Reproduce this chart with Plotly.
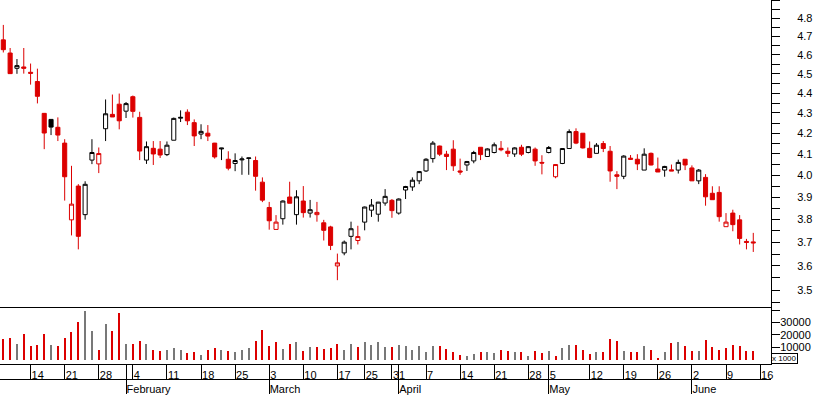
import pandas as pd
import plotly.graph_objects as go

# ---------------- data ----------------
holidays = ["2008-03-21", "2008-03-24", "2008-05-01"]
calendar_start = "2008-01-07"
calendar_end = "2008-06-16"
first_session = "2008-01-08"
last_session = "2008-06-13"
prev_close_before_start = 4.70

opens = [4.681, 4.610, 4.529, 4.536, 4.508, 4.460, 4.298, 4.268, 4.229, 4.152,
         3.798, 3.950, 3.821, 4.071, 4.053, 4.222, 4.293, 4.344, 4.309, 4.382,
         4.278, 4.071, 4.127, 4.123, 4.097, 4.166, 4.274, 4.304, 4.252, 4.196,
         4.200, 4.152, 4.124, 4.075, 4.055, 4.072, 4.079, 4.069, 3.968, 3.853,
         3.756, 3.803, 3.900, 3.821, 3.882, 3.828, 3.821, 3.785, 3.767, 3.600,
         3.655, 3.726, 3.708, 3.788, 3.841, 3.823, 3.873, 3.885, 3.828, 3.932,
         3.946, 3.974, 4.020, 4.078, 4.138, 4.099, 4.123, 4.020, 4.048, 4.067,
         4.132, 4.088, 4.107, 4.127, 4.113, 4.100, 4.132, 4.107, 4.123, 4.060,
         4.107, 3.993, 4.055, 4.126, 4.208, 4.200, 4.127, 4.103, 4.150, 4.113,
         4.002, 3.995, 4.080, 4.075, 4.024, 4.103, 4.029, 4.024, 4.025, 4.024,
         4.075, 4.034, 3.974, 3.990, 3.917, 3.921, 3.768, 3.828, 3.798, 3.704,
         3.702]
highs = [4.763, 4.637, 4.578, 4.637, 4.554, 4.527, 4.300, 4.270, 4.278, 4.171,
         4.044, 3.959, 3.972, 4.171, 4.131, 4.368, 4.393, 4.398, 4.355, 4.388,
         4.306, 4.160, 4.162, 4.162, 4.160, 4.277, 4.313, 4.318, 4.268, 4.244,
         4.240, 4.153, 4.129, 4.113, 4.103, 4.088, 4.082, 4.088, 3.990, 3.878,
         3.819, 3.885, 3.970, 3.931, 3.950, 3.887, 3.878, 3.798, 3.772, 3.652,
         3.708, 3.790, 3.772, 3.857, 3.891, 3.878, 3.936, 3.891, 3.894, 3.951,
         3.990, 4.020, 4.080, 4.162, 4.140, 4.115, 4.166, 4.078, 4.067, 4.115,
         4.133, 4.127, 4.155, 4.162, 4.131, 4.132, 4.144, 4.138, 4.131, 4.094,
         4.138, 4.052, 4.127, 4.219, 4.224, 4.201, 4.160, 4.152, 4.162, 4.138,
         4.019, 4.094, 4.095, 4.099, 4.127, 4.107, 4.083, 4.044, 4.050, 4.073,
         4.076, 4.046, 4.029, 4.005, 3.949, 3.949, 3.828, 3.843, 3.819, 3.715,
         3.741]
lows = [4.613, 4.500, 4.500, 4.501, 4.444, 4.348, 4.123, 4.191, 4.162, 3.884,
        3.730, 3.670, 3.799, 4.052, 4.010, 4.162, 4.280, 4.219, 4.275, 4.277,
        4.071, 4.053, 4.048, 4.081, 4.090, 4.166, 4.255, 4.240, 4.138, 4.171,
        4.162, 4.078, 4.071, 4.023, 4.019, 4.002, 4.002, 3.929, 3.877, 3.755,
        3.756, 3.777, 3.872, 3.777, 3.808, 3.808, 3.790, 3.708, 3.667, 3.541,
        3.645, 3.670, 3.691, 3.752, 3.811, 3.790, 3.861, 3.807, 3.821, 3.891,
        3.928, 3.959, 4.015, 4.059, 4.090, 4.024, 4.020, 4.002, 4.020, 4.056,
        4.071, 4.086, 4.103, 4.113, 4.086, 4.086, 4.090, 4.103, 4.044, 4.004,
        4.103, 3.986, 4.052, 4.126, 4.147, 4.126, 4.080, 4.103, 4.109, 3.970,
        3.936, 3.982, 4.073, 4.024, 4.024, 4.046, 4.015, 3.993, 4.020, 4.008,
        4.024, 3.974, 3.959, 3.861, 3.888, 3.790, 3.768, 3.748, 3.691, 3.670,
        3.659]
closes = [4.628, 4.501, 4.543, 4.529, 4.503, 4.384, 4.201, 4.230, 4.191, 3.993,
          3.868, 3.726, 3.958, 4.107, 4.102, 4.296, 4.280, 4.261, 4.347, 4.308,
          4.114, 4.135, 4.100, 4.095, 4.142, 4.273, 4.278, 4.261, 4.187, 4.209,
          4.186, 4.086, 4.128, 4.033, 4.069, 4.076, 4.081, 3.995, 3.886, 3.794,
          3.788, 3.882, 3.872, 3.901, 3.830, 3.843, 3.831, 3.752, 3.687, 3.613,
          3.701, 3.759, 3.725, 3.855, 3.864, 3.877, 3.903, 3.839, 3.891, 3.948,
          3.977, 4.017, 4.075, 4.152, 4.099, 4.088, 4.044, 4.015, 4.064, 4.107,
          4.097, 4.124, 4.144, 4.120, 4.103, 4.129, 4.099, 4.135, 4.067, 4.057,
          4.131, 4.050, 4.126, 4.208, 4.152, 4.129, 4.083, 4.142, 4.126, 4.020,
          3.995, 4.090, 4.075, 4.053, 4.099, 4.048, 4.015, 4.041, 4.020, 4.060,
          4.048, 3.974, 4.024, 3.901, 3.888, 3.812, 3.788, 3.777, 3.717, 3.700,
          3.698]
volumes = [17200, 18000, 13160, 21260, 10970, 12350, 21260, 12350, 11540, 18000,
           22870, 30970, 39880, 23680, 7490, 29350, 23680, 38260, 13160, 13160,
           15590, 13160, 7490, 6680, 7490, 9920, 7490, 5060, 5870, 3440,
           7490, 9110, 7490, 6680, 5870, 7490, 9920, 15590, 24490, 11540,
           14210, 8300, 13160, 14210, 6680, 10730, 10730, 8300, 9110, 13160,
           7490, 13160, 10730, 14210, 12350, 14210, 10730, 10730, 12350, 10970,
           7730, 10970, 5870, 10970, 10970, 8540, 6110, 3680, 2630, 4490,
           6110, 5870, 5300, 7730, 6920, 5870, 6110, 3170, 6920, 5300,
           6920, 2900, 9640, 11810, 11810, 7730, 4490, 5870, 6110, 16670,
           15050, 6920, 6110, 6110, 10970, 7730, 1280, 6110, 13430, 14210,
           10970, 6920, 6920, 15860, 10190, 7730, 9370, 11810, 10970, 6920,
           6920]

day_tick_dates = ["2008-01-07", "2008-01-14", "2008-01-21", "2008-01-28", "2008-02-04",
                  "2008-02-11", "2008-02-18", "2008-02-25", "2008-03-03", "2008-03-10",
                  "2008-03-17", "2008-03-25", "2008-03-31", "2008-04-07", "2008-04-14",
                  "2008-04-21", "2008-04-28", "2008-05-02", "2008-05-12", "2008-05-19",
                  "2008-05-26", "2008-06-02", "2008-06-09", "2008-06-16"]
day_tick_labels = ["7", "14", "21", "28", "4", "11", "18", "25", "3", "10", "17", "25",
                   "31", "7", "14", "21", "28", "5", "12", "19", "26", "2", "9", "16"]
month_tick_dates = ["2008-02-01", "2008-03-03", "2008-04-01", "2008-05-02", "2008-06-02"]
month_tick_labels = ["February", "March", "April", "May", "June"]
price_ticks = [3.5, 3.6, 3.7, 3.8, 3.9, 4.0, 4.1, 4.2, 4.3, 4.4, 4.5, 4.6, 4.7, 4.8]
price_minor_ticks = [3.45, 3.55, 3.65, 3.75, 3.85, 3.95, 4.05, 4.15, 4.25, 4.35,
                     4.45, 4.55, 4.65, 4.75, 4.85, 4.9]
volume_ticks = [10000, 20000, 30000]
volume_minor_ticks = [0, 40000]

# ---------------- build ----------------
RED = "#dc0000"
GRAY = "#787878"
BLACK = "#000000"

cal = pd.bdate_range(calendar_start, calendar_end).drop(pd.to_datetime(holidays))
pos = {d.strftime("%Y-%m-%d"): k for k, d in enumerate(cal)}
session_dates = [d for d in pos if first_session <= d <= last_session]
x = [pos[d] for d in session_dates]

prev = [prev_close_before_start] + closes[:-1]
is_red = [c < p for c, p in zip(closes, prev)]

def subset(flag):
    idx = [k for k in range(len(x)) if is_red[k] == flag]
    return ([x[k] for k in idx], [opens[k] for k in idx], [highs[k] for k in idx],
            [lows[k] for k in idx], [closes[k] for k in idx])

fig = go.Figure()
for flag, col in [(True, RED), (False, BLACK)]:
    xs, o, h, l, c = subset(flag)
    fig.add_trace(go.Candlestick(
        x=xs, open=o, high=h, low=l, close=c,
        increasing=dict(line=dict(color=col, width=1), fillcolor="white"),
        decreasing=dict(line=dict(color=col, width=1), fillcolor=col),
        whiskerwidth=0, xaxis="x", yaxis="y", hoverinfo="skip"))

fig.add_trace(go.Bar(
    x=x, y=volumes, width=0.16,
    marker=dict(color=[RED if r else GRAY for r in is_red], line=dict(width=0)),
    xaxis="x2", yaxis="y2", hoverinfo="skip"))

XR = [0.513, 113.6]
day_pos = [pos[d] for d in day_tick_dates]
month_pos = [pos[d] for d in month_tick_dates]

# invisible helper trace so that the month axis (x3) is part of a subplot
fig.add_trace(go.Scatter(x=month_pos, y=[0] * len(month_pos), mode="markers",
                         marker=dict(opacity=0), xaxis="x3", yaxis="y2",
                         hoverinfo="skip"))

axis_common = dict(showgrid=False, zeroline=False, linecolor=BLACK, linewidth=1,
                   tickcolor=BLACK, tickwidth=1)

fig.update_layout(
    width=817, height=395,
    margin=dict(l=0, r=46, t=0, b=0),
    paper_bgcolor="white", plot_bgcolor="white",
    showlegend=False,
    boxgap=0.4, boxgroupgap=0, bargap=0,
    font=dict(family="Liberation Sans, Arial, sans-serif", size=11, color=BLACK),
    xaxis=dict(domain=[0, 1], anchor="y", range=XR, showline=True, ticks="",
               showticklabels=False, rangeslider=dict(visible=False), **axis_common),
    yaxis=dict(domain=[0.2195, 1], anchor="x", type="log", range=[0.53573, 0.69045],
               side="right", showline=True, ticks="outside", ticklen=8,
               tickvals=price_ticks, ticktext=[f"{v:.1f}" for v in price_ticks],
               minor=dict(tickvals=price_minor_ticks, ticks="outside", ticklen=8,
                          tickcolor=BLACK, showgrid=False),
               ticklabelstandoff=15, **axis_common),
    xaxis2=dict(domain=[0, 1], anchor="y2", range=XR, showline=True,
                ticks="outside", ticklen=15, tickvals=day_pos, ticktext=day_tick_labels,
                ticklabelposition="outside right", ticklabelstandoff=1,
                minor=dict(tickvals=month_pos, ticks="outside", ticklen=29,
                           tickcolor=BLACK, showgrid=False),
                **axis_common),
    yaxis2=dict(domain=[0.0734, 0.2195], anchor="x2", range=[-3846, 42874],
                side="right", showline=True, ticks="outside", ticklen=8,
                tickvals=volume_ticks, ticktext=[str(v) for v in volume_ticks],
                minor=dict(tickvals=volume_minor_ticks, ticks="outside", ticklen=8,
                           tickcolor=BLACK, showgrid=False),
                ticklabelstandoff=-2, **axis_common),
    xaxis3=dict(overlaying="x2", anchor="free", position=0.0354, range=XR,
                showline=True, ticks="", tickvals=month_pos, ticktext=month_tick_labels,
                ticklabelposition="outside right", ticklabelstandoff=0, **axis_common),
    annotations=[dict(text="x 1000", xref="paper", yref="paper", x=1.0006,
                      y=(395 - 366) / 395, xanchor="left", yanchor="bottom",
                      showarrow=False, font=dict(size=8), bordercolor=BLACK,
                      borderwidth=1, borderpad=0, bgcolor="white")],
)

fig.write_html("out.html",
               config={"displayModeBar": False},
               post_script="document.body.style.margin='0';document.body.style.overflow='hidden';")
